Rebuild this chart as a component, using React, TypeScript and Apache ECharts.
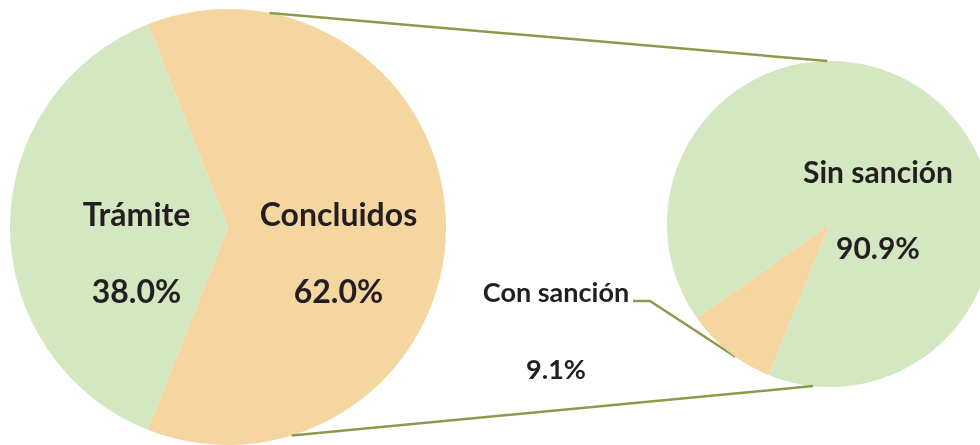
import React, { useEffect, useRef } from "react";
import * as echarts from "echarts";

// ---- data ----
const mainCategories = ["Concluidos", "Trámite"];
const mainValues = [62.0, 38.0];
const subCategories = ["Con sanción", "Sin sanción"];
const subValues = [9.1, 90.9];

// ---- style ----
const GREEN = "#d3e7c0";
const ORANGE = "#f6d6a0";
const LINE = "#8c9b4b";
const TEXT = "#231f20";
const FONT = "Lato";

const MAIN = { cx: 228, cy: 227, r: 218 };
const SUB = { cx: 830, cy: 224, r: 163 };

const pt = (c: { cx: number; cy: number; r: number }, deg: number) => [
  c.cx + c.r * Math.cos((deg * Math.PI) / 180),
  c.cy - c.r * Math.sin((deg * Math.PI) / 180),
];

export default function App() {
  const ref = useRef<HTMLDivElement>(null);
  useEffect(() => {
    if (!ref.current) return;
    const chart = echarts.init(ref.current, undefined, { renderer: "svg" });

    const mainSum = mainValues.reduce((a, b) => a + b, 0);
    const subSum = subValues.reduce((a, b) => a + b, 0);
    const mainStart = (mainValues[0] / mainSum) * 180; // first slice centred on the right
    const subStart = 231.5 + (subValues[0] / subSum) * 180; // first slice centred lower-left

    const mainColors = [ORANGE, GREEN];
    const subColors = [ORANGE, GREEN];

    const rich = (size: number) => ({
      n: { fontSize: size, fontWeight: 700, fontFamily: FONT, color: TEXT, lineHeight: 76.5, align: "center" },
      p: { fontSize: size, fontWeight: 700, fontFamily: FONT, color: TEXT, lineHeight: 76.5, align: "center" },
    });
    const fmt = (p: any) => `{n|${p.name}}\n{p|${p.percent.toFixed(1)}%}`;

    const mainLabelPos: Record<string, [number, number]> = {
      "Concluidos": [338.5, 251.75],
      "Trámite": [136.5, 251.75],
    };
    const subLabelPos: Record<string, [number, number]> = {
      "Sin sanción": [878, 209],
      "Con sanción": [556, 330],
    };

    const t1a = pt(MAIN, 79), t1b = pt(SUB, 91);
    const b1a = pt(MAIN, -73), b1b = pt(SUB, -96);

    chart.setOption({
      animation: false,
      series: [
        {
          type: "pie",
          center: [MAIN.cx, MAIN.cy],
          radius: MAIN.r,
          startAngle: mainStart,
          clockwise: true,
          percentPrecision: 1,
          avoidLabelOverlap: false,
          emphasis: { disabled: true },
          itemStyle: { borderWidth: 0 },
          label: { show: true, position: "inside", formatter: fmt, rich: rich(32) },
          labelLine: { show: false },
          labelLayout: (params: any) => {
            const pos = mainLabelPos[mainCategories[params.dataIndex]];
            return { x: pos[0], y: pos[1], align: "center", verticalAlign: "middle" };
          },
          data: mainCategories.map((name, i) => ({
            name,
            value: mainValues[i],
            itemStyle: { color: mainColors[i] },
          })),
        },
        {
          type: "pie",
          center: [SUB.cx, SUB.cy],
          radius: SUB.r,
          startAngle: subStart,
          clockwise: true,
          percentPrecision: 1,
          avoidLabelOverlap: false,
          emphasis: { disabled: true },
          itemStyle: { borderWidth: 0 },
          label: { show: true, position: "inside", formatter: fmt, rich: rich(30) },
          labelLine: { show: false },
          labelLayout: (params: any) => {
            const name = subCategories[params.dataIndex];
            const pos = subLabelPos[name];
            if (name === "Con sanción") {
              const p0 = pt(SUB, 234.5);
              return {
                x: pos[0],
                y: pos[1],
                align: "center",
                verticalAlign: "middle",
                labelLinePoints: [p0, [650, 301], [633, 301]],
              };
            }
            return { x: pos[0], y: pos[1], align: "center", verticalAlign: "middle" };
          },
          data: subCategories.map((name, i) => ({
            name,
            value: subValues[i],
            itemStyle: { color: subColors[i] },
            ...(name === "Con sanción"
              ? {
                  label: { position: "outside", formatter: fmt, rich: rich(27) },
                  labelLine: { show: true, length: 20, length2: 15, lineStyle: { color: LINE, width: 2.5 } },
                }
              : {}),
          })),
        },
      ],
      graphic: [
        {
          type: "line",
          shape: { x1: t1a[0], y1: t1a[1], x2: t1b[0], y2: t1b[1] },
          style: { stroke: LINE, lineWidth: 2.5 },
          z: 10,
        },
        {
          type: "line",
          shape: { x1: b1a[0], y1: b1a[1], x2: b1b[0], y2: b1b[1] },
          style: { stroke: LINE, lineWidth: 2.5 },
          z: 10,
        },
      ],
    });
    return () => chart.dispose();
  }, []);
  return (
    <div
      ref={ref}
      style={{ position: "fixed", left: 0, top: 0, width: 980, height: 445 }}
    />
  );
}
